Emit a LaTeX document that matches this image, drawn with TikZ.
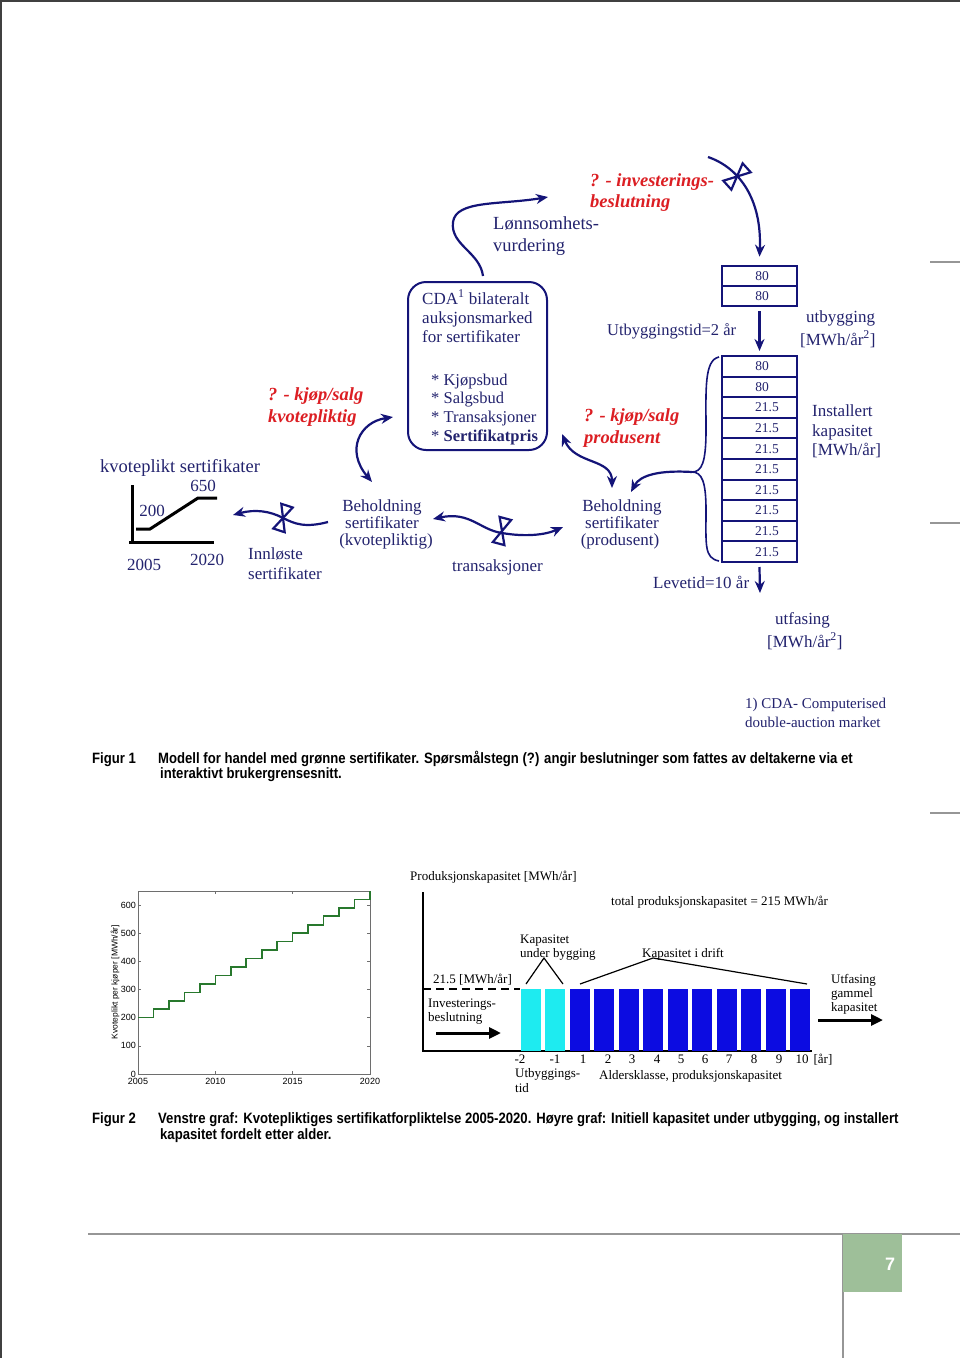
\documentclass[tikz,border=0pt]{standalone}
\usepackage{fontspec}
\setmainfont{Liberation Serif}
\newfontfamily\capfont[FakeStretch=0.875]{Liberation Sans}
\newfontfamily\axfont{Liberation Sans}
\usetikzlibrary{arrows.meta}
\definecolor{navy}{RGB}{20,20,120}
\definecolor{tnavy}{RGB}{35,35,110}
\definecolor{qred}{RGB}{220,30,35}
\definecolor{barcyan}{RGB}{30,235,240}
\definecolor{barblue}{RGB}{12,12,225}
\definecolor{pagegreen}{RGB}{158,191,153}
\definecolor{rulegray}{RGB}{150,150,150}
\definecolor{plotgreen}{RGB}{40,120,45}
\definecolor{axgray}{RGB}{110,110,110}
\tikzset{
  T/.style={inner sep=0pt, text depth=0pt, text=tnavy},
  f17/.style={T, font=\fontsize{17}{20}\selectfont, text height=12pt},
  f16/.style={T, font=\fontsize{16.5}{19}\selectfont, text height=11.5pt},
  f18/.style={T, font=\fontsize{18.5}{22}\selectfont, text height=13pt},
  q18/.style={T, text=qred, font=\fontsize{18.5}{22}\selectfont\bfseries\itshape, text height=13pt},
  fn/.style={T, font=\fontsize{15}{17}\selectfont, text height=10.5pt},
  b13/.style={inner sep=0pt, text depth=0pt, text=black, font=\fontsize{13}{15}\selectfont, text height=9pt},
  capt/.style={inner sep=0pt, text depth=0pt, text=black, font=\capfont\bfseries\fontsize{15}{17}\selectfont, text height=10.5pt},
  ax/.style={inner sep=0pt, text=black, font=\axfont\fontsize{9}{10}\selectfont},
  cell/.style={draw=navy, line width=2pt, minimum width=75pt, minimum height=20.6pt, inner sep=0pt, text=tnavy, font=\fontsize{13.5}{15}\selectfont},
  flow/.style={navy, line width=2.2pt, -{Stealth[length=12pt,width=10pt]}},
  dflow/.style={navy, line width=2.2pt, {Stealth[length=12pt,width=10pt]}-{Stealth[length=12pt,width=10pt]}},
  valve/.pic={\draw[navy, line width=2.2pt, line join=miter] (-6,-13)--(6,-13)--(-6,13)--(6,13)--cycle;},
  bigarrow/.style={black, line width=3pt, -{Triangle[length=12pt,width=11pt]}},
}
\begin{document}
\begin{tikzpicture}[x=1pt,y=-1pt]
\useasboundingbox (0,0) rectangle (960,1358);
\fill[white] (0,0) rectangle (960,1358);
% page frame
\draw[black!75, line width=2pt] (0,1) -- (960,1);
\draw[black!75, line width=2pt] (1,0) -- (1,1358);
\draw[rulegray, line width=1.5pt] (930,262) -- (960,262);
\draw[rulegray, line width=1.5pt] (930,523) -- (960,523);
\draw[rulegray, line width=1.5pt] (930,813) -- (960,813);
\draw[rulegray, line width=1.5pt] (88,1234) -- (960,1234);
\draw[rulegray, line width=1.5pt] (843,1234) -- (843,1358);
\node[fill=pagegreen, minimum width=59pt, minimum height=58pt, inner sep=0pt] (pg) at (872.5,1263) {};
\node[text=white, font=\axfont\bfseries\fontsize{18}{20}\selectfont, inner sep=0pt] (pgnum) at (890,1264) {7};

% ---------- top diagram ----------
\node[q18, anchor=west] (inv1) at (590,180) {? - investerings-};
\node[q18, anchor=west] (inv2) at (590,201) {beslutning};
\node[f18, anchor=west] (lon1) at (493,223) {Lønnsomhets-};
\node[f18, anchor=west] (lon2) at (493,245) {vurdering};

% capacity cells
\node[cell] (b1) at (759.5,276) {\hspace*{5pt}80};
\node[cell] (b2) at (759.5,296) {\hspace*{5pt}80};
\foreach \i/\v/\s in {1/80/5,2/80/5,3/21.5/15,4/21.5/15,5/21.5/15,6/21.5/15,7/21.5/15,8/21.5/15,9/21.5/15,10/21.5/15}{
  \node[cell] (c\i) at (759.5,{356+20.6*(\i-0.5)}) {\hspace*{\s pt}\v};
}
\draw[flow] ([yshift=-4pt]b2.south) -- ([yshift=4pt]c1.north);
\coordinate (outend) at (760,593);
\draw[flow] ([yshift=-4pt]c10.south) -- (outend);

\node[f16, anchor=west] (utbt) at (607,330) {Utbyggingstid=2 år};
\node[f17, anchor=west] (utb1) at (806,316) {utbygging};
\node[f17, anchor=west] (utb2) at (800,339) {[MWh/år\textsuperscript{2}]};
\node[f17, anchor=west] (ins1) at (812,410) {Installert};
\node[f17, anchor=west] (ins2) at (812,430) {kapasitet};
\node[f17, anchor=west] (ins3) at (812,449) {[MWh/år]};
\node[f17, anchor=west] (lev) at (653,582) {Levetid=10 år};
\node[f17, anchor=west] (utf1) at (775,618) {utfasing};
\node[f17, anchor=west] (utf2) at (767,641) {[MWh/år\textsuperscript{2}]};

% brace
\draw[navy, line width=1.6pt] (719,357) .. controls (704,360) and (706,390) .. (706,430)
  .. controls (706,462) and (702,472) .. (692,472)
  .. controls (702,472) and (706,482) .. (706,510)
  .. controls (706,545) and (704,558) .. (719,561);
\coordinate (brtip) at (692,472);
\coordinate (bpin) at (631,492);
\draw[flow] (brtip) .. controls (660,470) and (640,475) .. (bpin);

% investment arrow with valve
\coordinate (invS) at (708,157);
\draw[flow] (invS) .. controls (740,168) and (762,200) .. ([yshift=8pt]b1.north);
\pic[rotate=-48] (v1) at (737,176.5) {valve};

% CDA box
\node[draw=navy, line width=2pt, rounded corners=18pt, minimum width=139pt, minimum height=168pt, inner sep=0pt] (cda) at (477.5,366) {};
\node[f17, anchor=west] (cda1) at (422,298) {CDA\textsuperscript{1} bilateralt};
\node[f17, anchor=west] (cda2) at (422,317) {auksjonsmarked};
\node[f17, anchor=west] (cda3) at (422,336) {for sertifikater};
\node[f16, anchor=west] (cda4) at (431,380) {* Kjøpsbud};
\node[f16, anchor=west] (cda5) at (431,398) {* Salgsbud};
\node[f16, anchor=west] (cda6) at (431,417) {* Transaksjoner};
\node[f16, anchor=west] (cda7) at (431,436) {* \textbf{Sertifikatpris}};

\coordinate (lonS) at (483,276);
\coordinate (lonE) at (548,197);
\draw[flow] (lonS) .. controls (480,252) and (450,245) .. (453,222) .. controls (456,200) and (500,205) .. (lonE);

% decision labels
\node[q18, anchor=west] (kq1) at (268,394) {? - kjøp/salg};
\node[q18, anchor=west] (kq2) at (268,416) {kvotepliktig};
\node[q18, anchor=west] (kp1) at (584,415) {? - kjøp/salg};
\node[q18, anchor=west] (kp2) at (584,437) {produsent};

% stocks
\node[f17] (bk1) at (382,505) {Beholdning};
\node[f17] (bk2) at (382,522) {sertifikater};
\node[f17] (bk3) at (386,539) {(kvotepliktig)};
\node[f17] (bp1) at (622,505) {Beholdning};
\node[f17] (bp2) at (622,522) {sertifikater};
\node[f17] (bp3) at (620,539) {(produsent)};
\node[f17, anchor=west] (tr) at (452,565) {transaksjoner};
\node[f17, anchor=west] (inn1) at (248,553) {Innløste};
\node[f17, anchor=west] (inn2) at (248,573) {sertifikater};

\coordinate (kqA) at (393,417);
\coordinate (kqB) at (372,482);
\draw[dflow] (kqA) .. controls (360,422) and (345,450) .. (kqB);
\coordinate (kpA) at (562,434);
\coordinate (kpB) at (612,488);
\draw[dflow] (kpA) .. controls (575,465) and (612,458) .. (kpB);

\coordinate (trA) at (433,519);
\coordinate (trB) at (563,527);
\draw[dflow] (trA) .. controls (470,511) and (480,530) .. (502,533) .. controls (525,537) and (545,535) .. (trB);
\pic[rotate=-15] (v2) at (502,531) {valve};

\coordinate (redS) at (328,522);
\coordinate (redE) at (233,515);
\draw[flow] (redS) .. controls (305,528) and (295,524) .. (283,518) .. controls (270,511) and (255,509) .. (redE);
\pic[rotate=-18] (v3) at (283,518) {valve};

% mini graph
\node[f18, anchor=west] (kvt) at (100,466) {kvoteplikt sertifikater};
\draw[black, line width=3pt] (132,485) -- (132,542);
\draw[black, line width=3pt] (129,542) -- (214,542);
\draw[black, line width=3pt] (136,529) -- (150,529) -- (198,498) -- (217,498);
\node[f17] (m650) at (203,485) {650};
\node[f17] (m200) at (152,510) {200};
\node[f17] (m2005) at (144,564) {2005};
\node[f17] (m2020) at (207,559) {2020};

% footnote
\node[fn, anchor=west] (fn1) at (745,703) {1) CDA- Computerised};
\node[fn, anchor=west] (fn2) at (745,722) {double-auction market};

% caption 1
\node[capt, anchor=west] (f1a) at (92,758) {Figur 1};
\node[capt, anchor=west] (f1b) at (158,758) {Modell for handel med grønne sertifikater. Spørsmålstegn (?) angir beslutninger som fattes av deltakerne via et};
\node[capt, anchor=west] (f1c) at (160,773) {interaktivt brukergrensesnitt.};

% ---------- bottom left chart ----------
\draw[axgray, line width=0.8pt] (138,891) rectangle (370,1074);
\foreach \v in {0,100,...,600}{
  \draw[axgray, line width=0.6pt] (138,{1074-0.28167*\v}) -- (141,{1074-0.28167*\v});
  \draw[axgray, line width=0.6pt] (370,{1074-0.28167*\v}) -- (367,{1074-0.28167*\v});
  \node[ax, anchor=east] (yl\v) at (136,{1074-0.28167*\v}) {\v};
}
\foreach \yr in {2005,2010,2015,2020}{
  \draw[axgray, line width=0.6pt] ({138+15.4667*(\yr-2005)},1074) -- ({138+15.4667*(\yr-2005)},1071);
  \draw[axgray, line width=0.6pt] ({138+15.4667*(\yr-2005)},891) -- ({138+15.4667*(\yr-2005)},894);
  \node[ax] (xl\yr) at ({138+15.4667*(\yr-2005)},1081) {\yr};
}
\draw[plotgreen, line width=1.6pt] (138,{1074-0.28167*200})
  \foreach \k in {0,...,14}{ -- ({138+15.4667*(\k+1)},{1074-0.28167*(200+30*\k)}) -- ({138+15.4667*(\k+1)},{1074-0.28167*(230+30*\k)}) };
\node[ax, rotate=90, font=\axfont\fontsize{8.5}{10}\selectfont] (ylab) at (115,982) {Kvoteplikt per kjøper [MWh/år]};

% ---------- bottom right chart ----------
\node[b13, anchor=west] (pk) at (410,876) {Produksjonskapasitet [MWh/år]};
\draw[black, line width=1.3pt] (423,892) -- (423,1051) -- (812,1051);
\node[b13, anchor=west] (tot) at (611,901) {total produksjonskapasitet = 215 MWh/år};
\draw[black, line width=1.4pt, dash pattern=on 8pt off 5pt] (423,989) -- (520,989);
\node[b13, anchor=west] (r215) at (433,979) {21.5 [MWh/år]};
\node[b13, anchor=west] (ib1) at (428,1003) {Investerings-};
\node[b13, anchor=west] (ib2) at (428,1017) {beslutning};
\coordinate (iaS) at (436,1033);
\coordinate (iaE) at (501,1033);
\draw[bigarrow] (iaS) -- (iaE);
\foreach \i in {0,1}{
  \fill[barcyan] ({521+24.45*\i},989) rectangle ++(20,62);
}
\foreach \i in {2,...,11}{
  \fill[barblue] ({521+24.45*\i},989) rectangle ++(20,62);
}
\foreach \t/\x in {-2/520,-1/555,1/583,2/608,3/632,4/657,5/681,6/705,7/729,8/754,9/779,10/802,{[år]}/823}{
  \node[b13] at (\x,1059) {\t};
}
\node[b13, anchor=west] (ut1) at (515,1073) {Utbyggings-};
\node[b13, anchor=west] (ut2) at (515,1088) {tid};
\node[b13, anchor=west] (ak) at (599,1075) {Aldersklasse, produksjonskapasitet};
\node[b13, anchor=west] (kub1) at (520,939) {Kapasitet};
\node[b13, anchor=west] (kub2) at (520,953) {under bygging};
\node[b13, anchor=west] (kid) at (642,953) {Kapasitet i drift};
\draw[black, line width=1.2pt] (526,984) -- (544,958) -- (563,984);
\draw[black, line width=1.2pt] (580,984) -- (653,958) -- (807,984);
\node[b13, anchor=west] (uf1) at (831,979) {Utfasing};
\node[b13, anchor=west] (uf2) at (831,993) {gammel};
\node[b13, anchor=west] (uf3) at (831,1007) {kapasitet};
\coordinate (ufS) at (818,1020);
\coordinate (ufE) at (883,1020);
\draw[bigarrow] (ufS) -- (ufE);

% caption 2
\node[capt, anchor=west] (f2a) at (92,1118) {Figur 2};
\node[capt, anchor=west] (f2b) at (158,1118) {Venstre graf: Kvotepliktiges sertifikatforpliktelse 2005-2020. Høyre graf: Initiell kapasitet under utbygging, og installert};
\node[capt, anchor=west] (f2c) at (160,1134) {kapasitet fordelt etter alder.};
\end{tikzpicture}
\end{document}
